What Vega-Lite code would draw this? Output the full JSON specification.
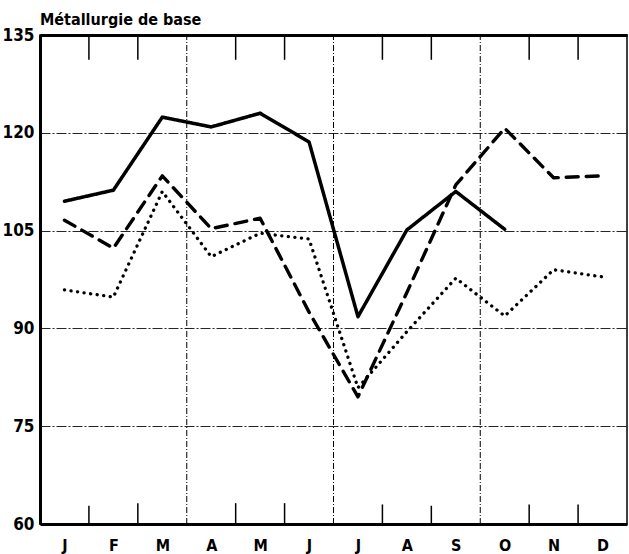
{
  "$schema": "https://vega.github.io/schema/vega-lite/v6.json",
  "width": 587,
  "height": 489,
  "autosize": {"type": "none"},
  "padding": {"left": 40, "top": 35, "right": 2, "bottom": 30},
  "background": "white",
  "config": {
    "view": {"stroke": "black", "strokeWidth": 1.5},
    "font": "DejaVu Sans Condensed"
  },
  "title": {
    "text": "Métallurgie de base",
    "anchor": "start",
    "frame": "group",
    "font": "DejaVu Sans Condensed",
    "fontSize": 16,
    "fontWeight": "bold",
    "color": "black",
    "baseline": "alphabetic",
    "offset": -15
  },
  "datasets": {
    "series": [
      {"serie": "a", "m": 1, "v": 109.5},
      {"serie": "a", "m": 2, "v": 111.2},
      {"serie": "a", "m": 3, "v": 122.4},
      {"serie": "a", "m": 4, "v": 120.9},
      {"serie": "a", "m": 5, "v": 123.0},
      {"serie": "a", "m": 6, "v": 118.6},
      {"serie": "a", "m": 7, "v": 91.8},
      {"serie": "a", "m": 8, "v": 105.1},
      {"serie": "a", "m": 9, "v": 111.0},
      {"serie": "a", "m": 10, "v": 105.2},
      {"serie": "b", "m": 1, "v": 106.6},
      {"serie": "b", "m": 2, "v": 102.3},
      {"serie": "b", "m": 3, "v": 113.4},
      {"serie": "b", "m": 4, "v": 105.3},
      {"serie": "b", "m": 5, "v": 106.9},
      {"serie": "b", "m": 6, "v": 92.5},
      {"serie": "b", "m": 7, "v": 79.5},
      {"serie": "b", "m": 8, "v": 95.5},
      {"serie": "b", "m": 9, "v": 112.0},
      {"serie": "b", "m": 10, "v": 120.7},
      {"serie": "b", "m": 11, "v": 113.1},
      {"serie": "b", "m": 12, "v": 113.4},
      {"serie": "c", "m": 1, "v": 95.9},
      {"serie": "c", "m": 2, "v": 94.8},
      {"serie": "c", "m": 3, "v": 111.0},
      {"serie": "c", "m": 4, "v": 101.0},
      {"serie": "c", "m": 5, "v": 104.6},
      {"serie": "c", "m": 6, "v": 103.7},
      {"serie": "c", "m": 7, "v": 80.9},
      {"serie": "c", "m": 8, "v": 89.5},
      {"serie": "c", "m": 9, "v": 97.7},
      {"serie": "c", "m": 10, "v": 91.9},
      {"serie": "c", "m": 11, "v": 99.0},
      {"serie": "c", "m": 12, "v": 97.9}
    ],
    "ticks": [
      {"b": 1.5, "lo": 60, "hi": 62.8}, {"b": 2.5, "lo": 60, "hi": 63.2}, {"b": 4.5, "lo": 60, "hi": 63.2},
      {"b": 5.5, "lo": 60, "hi": 63.2}, {"b": 7.5, "lo": 60, "hi": 63}, {"b": 8.5, "lo": 60, "hi": 62.8},
      {"b": 10.5, "lo": 60, "hi": 63}, {"b": 11.5, "lo": 60, "hi": 63},
      {"b": 1.5, "lo": 131.2, "hi": 135}, {"b": 2.5, "lo": 131.2, "hi": 135}, {"b": 4.5, "lo": 131.2, "hi": 135},
      {"b": 5.5, "lo": 131.2, "hi": 135}, {"b": 7.5, "lo": 131.2, "hi": 135}, {"b": 8.5, "lo": 131.2, "hi": 135},
      {"b": 10.5, "lo": 131.2, "hi": 135}, {"b": 11.5, "lo": 131.2, "hi": 135}
    ],
    "quarters": [
      {"b": 3.5, "lo": 60, "hi": 135},
      {"b": 6.5, "lo": 60, "hi": 135},
      {"b": 9.5, "lo": 60, "hi": 135}
    ]
  },
  "resolve": {"axis": {"x": "independent", "y": "independent"}},
  "layer": [
    {
      "data": {"name": "quarters"},
      "mark": {"type": "rule", "color": "black", "strokeWidth": 1, "strokeDash": [6, 2, 1, 2]},
      "encoding": {
        "x": {"field": "b", "type": "quantitative", "scale": {"domain": [0.5, 12.5], "nice": false, "zero": false}, "axis": null},
        "y": {"field": "lo", "type": "quantitative", "scale": {"domain": [60, 135], "nice": false, "zero": false}, "axis": null},
        "y2": {"field": "hi"}
      }
    },
    {
      "data": {"name": "ticks"},
      "mark": {"type": "rule", "color": "black", "strokeWidth": 1.5},
      "encoding": {
        "x": {"field": "b", "type": "quantitative", "scale": {"domain": [0.5, 12.5], "nice": false, "zero": false},
              "axis": {"orient": "top", "labels": false, "ticks": false, "grid": false, "title": null, "domainColor": "black", "domainWidth": 3}},
        "y": {"field": "lo", "type": "quantitative", "scale": {"domain": [60, 135], "nice": false, "zero": false}, "axis": null},
        "y2": {"field": "hi"}
      }
    },
    {
      "data": {"name": "series"},
      "mark": {"type": "line", "color": "black", "strokeCap": "round", "strokeJoin": "round"},
      "encoding": {
        "x": {"field": "m", "type": "quantitative", "scale": {"domain": [0.5, 12.5], "nice": false, "zero": false},
              "axis": {"orient": "bottom", "values": [1,2,3,4,5,6,7,8,9,10,11,12],
                       "labelExpr": "['J','F','M','A','M','J','J','A','S','O','N','D'][datum.value - 1]",
                       "ticks": false, "grid": false, "title": null, "domainColor": "black", "domainWidth": 3,
                       "labelFont": "DejaVu Sans Condensed", "labelFontWeight": "bold", "labelFontSize": 16,
                       "labelColor": "black", "labelPadding": 13}},
        "y": {"field": "v", "type": "quantitative", "scale": {"domain": [60, 135], "nice": false, "zero": false},
              "axis": {"orient": "left", "values": [60, 75, 90, 105, 120, 135], "ticks": false, "grid": true,
                       "gridColor": "black", "gridWidth": 1, "gridDash": [10, 2, 2, 2], "gridOpacity": 0.85,
                       "title": null, "domainColor": "black", "domainWidth": 3,
                       "labelFont": "DejaVu Sans Condensed", "labelFontWeight": "bold", "labelFontSize": 17,
                       "labelColor": "black", "labelPadding": 6}},
        "strokeDash": {"field": "serie", "type": "nominal", "legend": null,
                       "scale": {"domain": ["a", "b", "c"], "range": [[1, 0], [12, 8], [0.1, 6.5]]}},
        "strokeWidth": {"field": "serie", "type": "nominal", "legend": null,
                        "scale": {"domain": ["a", "b", "c"], "range": [3.5, 3.3, 3.8]}},
        "detail": {"field": "serie"}
      }
    }
  ]
}
